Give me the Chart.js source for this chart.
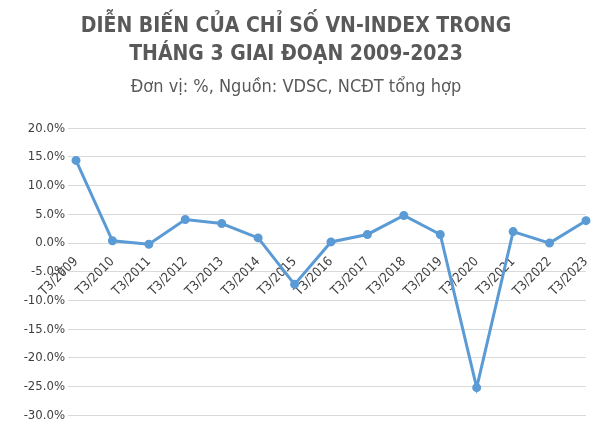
<!DOCTYPE html>
<html>
<head>
<meta charset="utf-8">
<script src="https://cdn.jsdelivr.net/npm/chart.js@4"></script>
<style>
  body { margin: 0; background: #fff; }
  #wrap { width: 600px; height: 426px; position: relative; }
</style>
</head>
<body>
<div id="wrap"><canvas id="myChart"></canvas></div>
<script>
// data
const years = ["T3/2009","T3/2010","T3/2011","T3/2012","T3/2013","T3/2014","T3/2015","T3/2016",
               "T3/2017","T3/2018","T3/2019","T3/2020","T3/2021","T3/2022","T3/2023"];
const changePct = [14.4, 0.4, -0.2, 4.1, 3.4, 0.9, -7.2, 0.2, 1.5, 4.8, 1.5, -25.2, 2.0, 0.0, 3.9];

const fontFam = "'DejaVu Sans Condensed', 'Liberation Sans Narrow', 'DejaVu Sans', sans-serif";

new Chart(document.getElementById("myChart").getContext("2d"), {
  type: "line",
  data: {
    labels: years,
    datasets: [{
      data: changePct,
      borderColor: "#5b9bd5",
      backgroundColor: "#5b9bd5",
      borderWidth: 3,
      pointRadius: 3,
      pointBackgroundColor: "#5b9bd5",
      tension: 0
    }]
  },
  options: {
    responsive: true,
    maintainAspectRatio: false,
    animation: false,
    layout: { padding: { left: 4, right: 12, bottom: 6 } },
    plugins: {
      legend: { display: false },
      tooltip: { enabled: false },
      title: {
        display: true,
        text: ["DIỄN BIẾN CỦA CHỈ SỐ VN-INDEX TRONG", "THÁNG 3 GIAI ĐOẠN 2009-2023"],
        color: "#595959",
        font: { family: fontFam, size: 21, weight: "bold", lineHeight: 1.35 },
        padding: { top: 12, bottom: 4 }
      },
      subtitle: {
        display: true,
        text: "Đơn vị: %, Nguồn: VDSC, NCĐT tổng hợp",
        color: "#595959",
        font: { family: fontFam, size: 18 },
        padding: { top: 4, bottom: 30 }
      }
    },
    scales: {
      x: {
        position: { y: 0 },
        grid: { display: false },
        border: { color: "#d9d9d9" },
        afterFit: s => { s.paddingLeft = 22; },
        ticks: {
          color: "#404040",
          font: { family: fontFam, size: 13 },
          maxRotation: 45, minRotation: 45
        }
      },
      y: {
        min: -30, max: 20,
        grid: { color: "#d9d9d9" },
        border: { display: false },
        afterFit: s => { s.width = 72; },
        ticks: {
          stepSize: 5,
          color: "#404040",
          font: { family: fontFam, size: 13 },
          callback: v => v.toFixed(1) + "%"
        }
      }
    }
  }
});
</script>
</body>
</html>
